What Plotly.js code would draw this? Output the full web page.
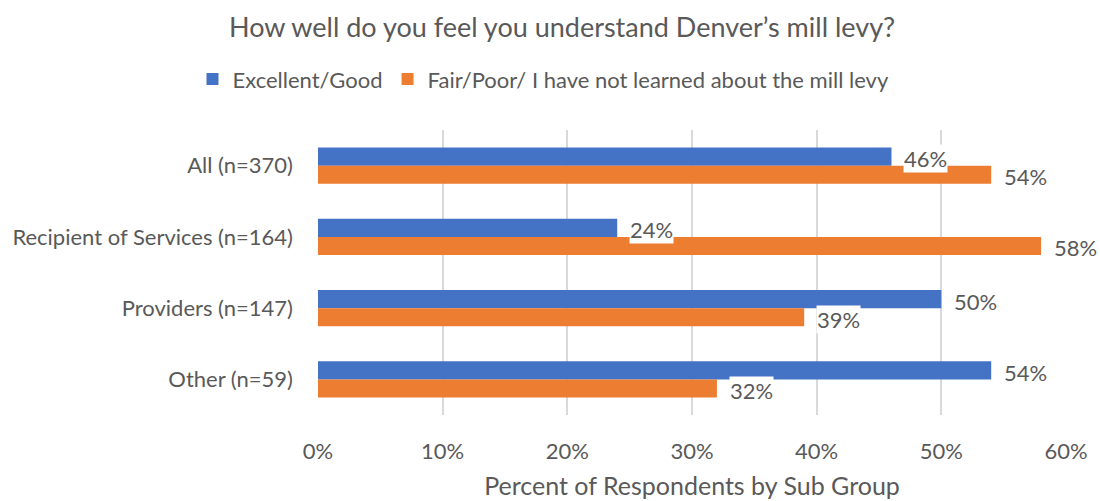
<!DOCTYPE html>
<html>
<head>
<meta charset="utf-8">
<script src="https://cdn.plot.ly/plotly-3.0.1.min.js"></script>
<style>html,body{margin:0;padding:0;background:#fff;}#chart{width:1100px;height:501px;}</style>
</head>
<body>
<div id="chart"></div>
<script>
const categories = ["All (n=370)", "Recipient of Services (n=164)", "Providers (n=147)", "Other (n=59)"];
const seriesNames = ["Excellent/Good", "Fair/Poor/ I have not learned about the mill levy"];
const excellentGood = [46, 24, 50, 54];
const fairPoor = [54, 58, 39, 32];
const xTickVals = [0, 10, 20, 30, 40, 50, 60];
const xTickText = ["0%", "10%", "20%", "30%", "40%", "50%", "60%"];

const colors = ["#4472C4", "#ED7D31"];
const textColor = "#595959";
const fontFam = "Lato, 'Open Sans', sans-serif";

const traces = [
  {type: "bar", orientation: "h", name: seriesNames[0], y: categories, x: excellentGood,
   marker: {color: colors[0]}, hoverinfo: "skip"},
  {type: "bar", orientation: "h", name: seriesNames[1], y: categories, x: fairPoor,
   marker: {color: colors[1]}, hoverinfo: "skip"}
];

const annotations = [];
[excellentGood, fairPoor].forEach((vals, si) => {
  vals.forEach((v, i) => {
    annotations.push({
      x: v, y: categories[i], xref: "x", yref: "y",
      text: v + "%", showarrow: false, xanchor: "left", yanchor: "middle",
      xshift: 12, yshift: si === 0 ? 7 : -11,
      bgcolor: "#ffffff", borderpad: 0,
      font: {family: fontFam, size: 22, color: textColor}
    });
  });
});

const layout = {
  width: 1100, height: 501,
  margin: {l: 318, r: 34, t: 130, b: 86},
  paper_bgcolor: "#ffffff", plot_bgcolor: "#ffffff",
  font: {family: fontFam, size: 22, color: textColor},
  title: {text: "How well do you feel you understand Denver’s mill levy?",
          font: {family: fontFam, size: 27, color: textColor},
          x: 0.511, xref: "container", xanchor: "center",
          y: 0.946, yref: "container", yanchor: "middle"},
  barmode: "group", bargap: 0.49, bargroupgap: 0,
  showlegend: true,
  legend: {orientation: "h", xref: "container", x: 0.175, xanchor: "left",
           yref: "container", y: 0.842, yanchor: "middle",
           font: {family: fontFam, size: 22, color: textColor},
           itemwidth: 30, traceorder: "normal"},
  xaxis: {range: [0, 60], tickvals: xTickVals, ticktext: xTickText,
          showgrid: true, gridcolor: "#d9d9d9", gridwidth: 2,
          zeroline: false, showline: false, ticks: "", ticklen: 0,
          ticklabelstandoff: 21,
          tickfont: {family: fontFam, size: 22, color: textColor},
          title: {text: "Percent of Respondents by Sub Group", standoff: 14,
                  font: {family: fontFam, size: 25, color: textColor}},
          fixedrange: true},
  yaxis: {type: "category", autorange: "reversed", showgrid: false, zeroline: false,
          showline: false, ticks: "", ticklabelstandoff: 24,
          tickfont: {family: fontFam, size: 22, color: textColor}, fixedrange: true},
  annotations: annotations
};

Plotly.newPlot("chart", traces, layout, {displayModeBar: false, staticPlot: true});
</script>
</body>
</html>
